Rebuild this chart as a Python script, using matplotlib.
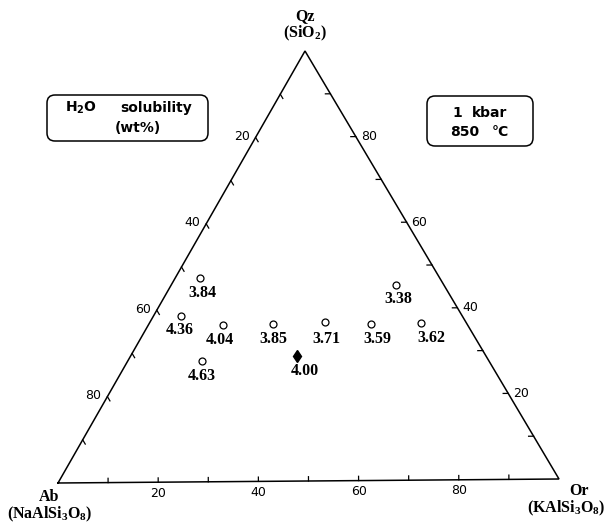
# ternary plot: H2O solubility in haplogranite melts, 1 kbar / 850 C
import numpy as np
import matplotlib.pyplot as plt
from matplotlib.patches import FancyBboxPatch
from matplotlib.transforms import Affine2D

plt.rcParams["mathtext.fontset"] = "custom"
plt.rcParams["mathtext.rm"] = "Liberation Serif:bold"
plt.rcParams["mathtext.it"] = "Liberation Serif:bold"
plt.rcParams["mathtext.bf"] = "Liberation Serif:bold"
plt.rcParams["mathtext.sf"] = "DejaVu Sans:bold"

# compositions in wt% (Or, Qz); Ab is the rest
or_pct = [5, 5.5, 15, 25, 35, 44.5, 54.5, 45, 15, 33.5]
qz_pct = [47.5, 38.5, 36.5, 36.5, 37, 36.5, 36.5, 45.5, 28, 29]
h2o = ["3.84", "4.36", "4.04", "3.85", "3.71", "3.59", "3.62", "3.38", "4.63", "4.00"]
filled = [False, False, False, False, False, False, False, False, False, True]

ticks = [10, 20, 30, 40, 50, 60, 70, 80, 90]
tick_labels = [20, 40, 60, 80]

# label nudges (pixels) for the numbers under the points
label_dx = [2, -1, -3, 0, 2, 6, 10, 2, -1, 7]
label_dy = [-15, -14, -15, -15, -17, -15, -15, -14, -15, -15]

serif = ["Liberation Serif", "DejaVu Serif"]
sans = ["DejaVu Sans"]

fig = plt.figure(figsize=(6.09, 5.23), dpi=100)
ax = fig.add_axes([0, 0, 1, 1])
ax.set_xlim(0, 609)
ax.set_ylim(523, 0)
ax.axis("off")

# (Or, Qz) in percent -> pixel coordinates of the triangle
tern = Affine2D.from_values(5.01, -0.04, 2.47, -4.32, 58, 483) + ax.transData

# triangle outline
ax.plot([0, 100, 0, 0], [0, 0, 100, 0], color="black", lw=1.1, transform=tern,
        solid_joinstyle="miter")

# small ticks every 10 %
for t in ticks:
    ax.plot([t, t - 0.5], [0, 1], color="black", lw=0.9, transform=tern)
    ax.plot([t, t - 1], [100 - t, 100 - t], color="black", lw=0.9, transform=tern)
    ax.plot([0, 1], [t, t - 1], color="black", lw=0.9, transform=tern)

for v in tick_labels:
    # bottom: Or
    ax.annotate(str(v), (v, 0), xycoords=tern, xytext=(0, -11), textcoords="offset pixels",
                ha="center", va="center", fontsize=9, family=sans)
    # right: Qz
    ax.annotate(str(v), (100 - v, v), xycoords=tern, xytext=(5, 0), textcoords="offset pixels",
                ha="left", va="center", fontsize=9, family=sans)
    # left: Ab
    ax.annotate(str(v), (0, 100 - v), xycoords=tern, xytext=(-6, 1), textcoords="offset pixels",
                ha="right", va="center", fontsize=9, family=sans)

# data points
for i in range(len(h2o)):
    if filled[i]:
        ax.plot(or_pct[i], qz_pct[i], marker="d", ms=6, color="black", transform=tern)
    else:
        ax.plot(or_pct[i], qz_pct[i], marker="o", ms=5, mfc="white", mec="black", mew=0.9,
                transform=tern)
    ax.annotate(h2o[i], (or_pct[i], qz_pct[i]), xycoords=tern, xytext=(label_dx[i], label_dy[i]),
                textcoords="offset pixels", ha="center", va="center", fontsize=11.5,
                fontweight="bold", family=serif)

# corner names
corner = dict(ha="center", va="center", fontsize=11.5, fontweight="bold", family=serif)
ax.text(305, 16, "Qz", **corner)
ax.text(305, 33, "(SiO$_2$)", **corner)
ax.text(49, 497, "Ab", **corner)
ax.text(50, 514, "(NaAlSi$_3$O$_8$)", **corner)
ax.text(579, 491, "Or", **corner)
ax.text(566, 508, "(KAlSi$_3$O$_8$)", **corner)

# boxes
box = dict(fontsize=10, fontweight="bold", family=sans, va="center")
ax.add_patch(FancyBboxPatch((47, 95), 161, 46, boxstyle="round,pad=0,rounding_size=8",
                            fc="none", ec="black", lw=1.1))
ax.text(65, 108, r"H$_\mathsf{2}$O", ha="left", **box)
ax.text(120, 108, "solubility", ha="left", **box)
ax.text(138, 128, "(wt%)", ha="center", **box)

ax.add_patch(FancyBboxPatch((427, 96), 106, 50, boxstyle="round,pad=0,rounding_size=8",
                            fc="none", ec="black", lw=1.1))
ax.text(452, 113, "1", ha="left", **box)
ax.text(472, 113, "kbar", ha="left", **box)
ax.text(450, 132, "850", ha="left", **box)
ax.text(492, 132, "°C", ha="left", **box)

plt.savefig("out.png", dpi=100)
